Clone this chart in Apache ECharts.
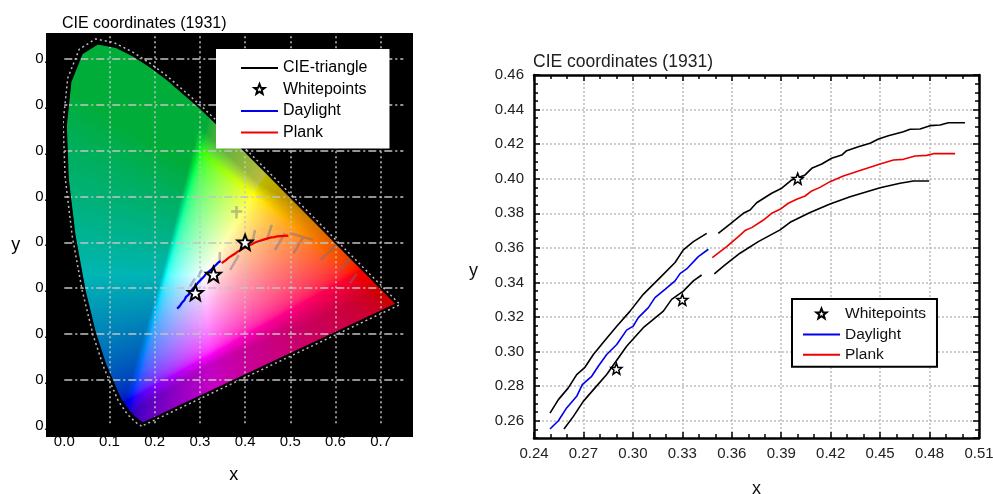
<!DOCTYPE html>
<html><head><meta charset="utf-8">
<style>html,body{margin:0;padding:0;background:#fff}#c{width:993px;height:494px}</style>
<script src="https://cdn.jsdelivr.net/npm/echarts@6/dist/echarts.min.js"></script>
</head><body><div id="c"></div>
<script>
const titleText = 'CIE coordinates (1931)';
const ciePerimeter = [[.1741,.0050],[.1733,.0048],[.1714,.0051],[.1644,.0109],[.1566,.0177],[.1440,.0297],[.1241,.0578],[.0913,.1327],[.0687,.2007],[.0454,.2950],[.0235,.4127],[.0082,.5384],[.0039,.6548],[.0139,.7502],[.0389,.8120],[.0743,.8338],[.1142,.8262],[.1547,.8059],[.1929,.7816],[.2296,.7543],[.3016,.6923],[.3731,.6245],[.4441,.5547],[.5125,.4866],[.5752,.4242],[.6270,.3725],[.6915,.3083],[.7260,.2740],[.7347,.2653],[.1741,.0050]];
const whitepoints = [[.29,.29],[.33,.33],[.40,.40]];
const daylight = [[.2497,.2552],[.2548,.26],[.2598,.2674],[.2659,.2741],[.2693,.2809],[.2750,.2857],[.2790,.2915],[.2841,.2983],[.2902,.3041],[.2962,.3124],[.3002,.3147],[.3033,.3196],[.3094,.3254],[.3134,.3312],[.3195,.3360],[.3256,.3409],[.3286,.3451],[.3326,.3478],[.3397,.3549],[.3458,.3592]];
const plank = [[.3482,.3543],[.3569,.3607],[.3640,.3665],[.3680,.3700],[.3721,.3717],[.3792,.3761],[.3842,.38],[.3893,.3823],[.3943,.3858],[.3994,.3881],[.4045,.39],[.4085,.3929],[.4135,.3950],[.4196,.3983],[.4277,.4016],[.4378,.4047],[.4500,.4085],[.4581,.4108],[.4641,.4112],[.4712,.4131],[.4783,.4135],[.4823,.4145],[.4955,.4145]];
const daylightUpper = [[.2497,.2644],[.2548,.2722],[.2608,.2790],[.2659,.2867],[.2709,.2909],[.2760,.2983],[.2831,.3066],[.2902,.3147],[.2983,.3234],[.3063,.3331],[.3165,.3428],[.3256,.3515],[.3306,.3588],[.3367,.3636],[.3448,.3684]];
const daylightLower = [[.2582,.2552],[.2639,.2625],[.2699,.2712],[.2770,.2790],[.2841,.2867],[.2962,.3031],[.3063,.3138],[.3185,.3234],[.3235,.3302],[.3306,.3350],[.3367,.3409],[.3417,.3443]];
const plankUpper = [[.3518,.3684],[.3589,.3738],[.3670,.38],[.3711,.3819],[.3751,.3861],[.3842,.3916],[.3903,.3945],[.3964,.3993],[.4045,.4022],[.4085,.4060],[.4146,.4085],[.4206,.4118],[.4267,.4137],[.4297,.4162],[.4368,.4185],[.4439,.4205],[.4490,.4230],[.4550,.4249],[.4641,.4272],[.4682,.4286],[.4742,.4288],[.4803,.4307],[.4864,.4311],[.4914,.4324],[.5015,.4324]];
const plankLower = [[.3494,.3449],[.3559,.3501],[.3650,.3569],[.3761,.3636],[.3893,.3704],[.3954,.3748],[.4075,.3804],[.4196,.3854],[.4318,.3896],[.4500,.3948],[.4621,.3974],[.4702,.3987],[.4797,.3987]];
const isoTicks = [[.278,.303],[.289,.321],[null,null],[.296,.324],[.304,.340],[null,null],[.344,.358],[.344,.379],[null,null],[.367,.340],[.386,.372],[null,null],[.415,.394],[.422,.427],[null,null],[.448,.405],[.459,.438],[null,null],[.466,.383],[.488,.420],[null,null],[.507,.376],[.529,.412],[null,null],[.566,.361],[.603,.394],[null,null],[.610,.340],[.632,.365],[null,null],[.632,.310],[.647,.332],[null,null],[.499,.420],[.551,.405],[null,null],[.369,.467],[.394,.467],[null,null],[.381,.479],[.381,.452]];
const leftXRange = [0,.75], leftYRange = [0,.85];
const rightXRange = [.24,.51], rightYRange = [.25,.46];
const starPath = 'path://M0,-10 L2.6,-3.3 L9.5,-3.1 L4.1,1.3 L5.9,8.1 L0,4.2 L-5.9,8.1 L-4.1,1.3 L-9.5,-3.1 L-2.6,-3.3 Z';
const legendStar = 'path://M-13,-13 L-13,-13 M13,13 L13,13 M0,-10 L2.6,-3.3 L9.5,-3.1 L4.1,1.3 L5.9,8.1 L0,4.2 L-5.9,8.1 L-4.1,1.3 L-9.5,-3.1 L-2.6,-3.3 Z';

function inside(px,py,poly){let c=false;for(let i=0,j=poly.length-1;i<poly.length;j=i++){const a=poly[i],b=poly[j];if((a[1]>py)!==(b[1]>py)&&px<(b[0]-a[0])*(py-a[1])/(b[1]-a[1])+a[0])c=!c;}return c;}
function gam(v){v=Math.max(0,Math.min(1,v));return v<=.0031308?12.92*v:1.055*Math.pow(v,1/2.4)-.055;}
function fieldColor(x,y){
  const X=x/y,Z=(1-x-y)/y;
  let r=3.2406*X-1.5372-.4986*Z,g=-.9689*X+1.8758+.0415*Z,b=.0557*X-.2040+1.0570*Z;
  const m=Math.min(r,g,b),mx=Math.max(r,g,b,1e-6);
  const over=Math.min(1,Math.max(0,-m/mx)*14);
  r=Math.max(r,0)/mx;g=Math.max(g,0)/mx;b=Math.max(b,0)/mx;
  if(g===1)b=Math.max(b,.09*over);
  const t=r+g+b;
  const dark=(r*.2+g*.33+b*.25)/t;
  const k=1-dark*over;
  return [gam(r)*255*k,gam(g)*255*k,gam(b)*255*k];
}
function makeField(w,h){
  const cv=document.createElement('canvas');cv.width=w;cv.height=h;
  const ctx=cv.getContext('2d'),im=ctx.createImageData(w,h);
  for(let j=0;j<h;j++)for(let i=0;i<w;i++){
    const x=leftXRange[0]+(i+.5)/w*(leftXRange[1]-leftXRange[0]);
    const y=leftYRange[1]-(j+.5)/h*(leftYRange[1]-leftYRange[0]);
    const o=(j*w+i)*4;
    if(inside(x,y,ciePerimeter)){const c=fieldColor(x,y);im.data[o]=c[0];im.data[o+1]=c[1];im.data[o+2]=c[2];im.data[o+3]=255;}
  }
  ctx.putImageData(im,0,0);return cv;
}
const fieldCanvas=makeField(339,389);
const rim=ciePerimeter.map(p=>[.33+(p[0]-.33)*1.02,.33+(p[1]-.33)*1.02]);

const font='"Liberation Sans",Arial,sans-serif';
const lbl=(size,extra)=>Object.assign({fontFamily:font,fontSize:size,color:'#111'},extra||{});
function line(name,data,color,xi,yi,w){return {name,type:'line',data,xAxisIndex:xi,yAxisIndex:yi,showSymbol:false,symbol:'none',z:5,lineStyle:{color,width:w},itemStyle:{color},silent:true,clip:false};}
function stars(xi,yi,size,bw){return {name:'Whitepoints',type:'scatter',data:whitepoints,xAxisIndex:xi,yAxisIndex:yi,symbol:starPath,symbolSize:size,z:6,itemStyle:{color:'#fff',borderColor:'#000',borderWidth:bw,opacity:1},silent:true};}
const noDot={itemStyle:{color:'transparent',borderColor:'transparent',borderWidth:0,opacity:0}};
const starEntry={name:'Whitepoints',icon:legendStar,itemStyle:{color:'#fff',borderColor:'#000',borderWidth:2}};
const rightXBase={type:'value',gridIndex:1,min:rightXRange[0],max:rightXRange[1],interval:.03,axisLine:{onZero:false,lineStyle:{color:'#000',width:2.5}},axisTick:{inside:true,length:6,lineStyle:{color:'#000',width:1.5}},minorTick:{show:true,splitNumber:3,length:4,lineStyle:{color:'#000',width:1.5}}};
const rightYBase={type:'value',gridIndex:1,min:rightYRange[0],max:rightYRange[1],splitNumber:10,axisLine:{onZero:false,lineStyle:{color:'#000',width:2.5}},axisTick:{inside:true,length:6,lineStyle:{color:'#000',width:1.5}}};
const rightYMinor={type:'value',gridIndex:1,min:rightYRange[0],max:rightYRange[1],interval:.005,axisLine:{show:false},axisLabel:{show:false},splitLine:{show:false},axisTick:{inside:true,length:4,lineStyle:{color:'#000',width:1.5}}};
const grayDot={show:true,showMinLine:false,showMaxLine:false,lineStyle:{color:'#bdbdbd',width:1.5,type:[2,2]}};

const option={
  animation:false,
  backgroundColor:'#fff',
  title:[
    {text:titleText,left:62,top:16,padding:0,textStyle:{fontFamily:font,fontSize:16,fontWeight:'normal',color:'#000'}},
    {text:titleText,left:533,top:53,padding:0,textStyle:{fontFamily:font,fontSize:17.5,fontWeight:'normal',color:'#222'}}
  ],
  graphic:[{type:'rect',z:-1,silent:true,shape:{x:46,y:33,width:367,height:404},style:{fill:'#000'}}],
  grid:[
    {left:64.3,top:36.2,width:339,height:389.3,outerBoundsMode:'none'},
    {left:534,top:75,width:445,height:363,outerBoundsMode:'none'}
  ],
  legend:[
    {orient:'vertical',left:216,top:49,padding:[11,22,8,24],itemWidth:37,itemHeight:14,itemGap:5.5,backgroundColor:'#fff',z:10,selectedMode:false,textStyle:lbl(16,{color:'#000'}),
     data:[Object.assign({name:'CIE-triangle'},noDot),starEntry,Object.assign({name:'Daylight'},noDot),Object.assign({name:'Plank'},noDot)]},
    {orient:'vertical',left:792,top:299,padding:[7,11,4,10],itemWidth:37,itemHeight:14,itemGap:4.4,backgroundColor:'#fff',borderColor:'#000',borderWidth:2,z:10,selectedMode:false,textStyle:lbl(15.5,{color:'#111'}),
     data:[starEntry,Object.assign({name:'Daylight'},noDot),Object.assign({name:'Plank'},noDot)]}
  ],
  xAxis:[
    {type:'value',gridIndex:0,min:leftXRange[0],max:leftXRange[1],interval:.1,z:3,name:'x',nameLocation:'middle',nameGap:41,nameTextStyle:lbl(18,{color:'#000'}),axisLine:{show:false},axisTick:{show:false},axisLabel:{margin:9,showMaxLabel:false,formatter:v=>v.toFixed(1),fontFamily:font,fontSize:15,color:'#000'},splitLine:{show:true,showMinLine:false,showMaxLine:false,lineStyle:{color:'#c4c4c4',width:1.5,type:[2,3]}}},
    Object.assign({},rightXBase,{position:'bottom',name:'x',nameLocation:'middle',nameGap:42,nameTextStyle:lbl(18),axisLabel:{margin:8,formatter:v=>v.toFixed(2),fontFamily:font,fontSize:15,color:'#222'},splitLine:grayDot}),
    Object.assign({},rightXBase,{position:'top',axisLabel:{show:false},splitLine:{show:false}})
  ],
  yAxis:[
    {type:'value',gridIndex:0,min:leftYRange[0],max:leftYRange[1],interval:.1,z:3,name:'y',nameLocation:'middle',nameRotate:0,nameGap:44,nameTextStyle:lbl(18,{color:'#000',verticalAlign:'top',padding:[5,0,0,0]}),axisLine:{show:false},axisTick:{show:false},axisLabel:{margin:16.5,showMaxLabel:false,formatter:()=>'0.',fontFamily:font,fontSize:15,color:'#000'},splitLine:{show:true,showMinLine:false,showMaxLine:false,lineStyle:{color:'#c4c4c4',width:1.5,type:[8,3,2,3]}}},
    Object.assign({},rightYBase,{position:'left',name:'y',nameLocation:'middle',nameRotate:0,nameGap:56,nameTextStyle:lbl(18,{verticalAlign:'top',padding:[6,0,0,0]}),axisLabel:{margin:10,showMinLabel:false,formatter:v=>v.toFixed(2),fontFamily:font,fontSize:15,color:'#222'},splitLine:grayDot}),
    Object.assign({},rightYBase,{position:'right',axisLabel:{show:false},splitLine:{show:false}}),
    Object.assign({},rightYMinor,{position:'left'}),
    Object.assign({},rightYMinor,{position:'right'})
  ],
  series:[
    {type:'custom',name:'field',xAxisIndex:0,yAxisIndex:0,z:1,silent:true,clip:false,coordinateSystem:'cartesian2d',data:[[leftXRange[0],leftYRange[1],leftXRange[1],leftYRange[0]]],
     encode:{x:[0,2],y:[1,3]},
     renderItem(p,api){const a=api.coord([api.value(0),api.value(1)]),b=api.coord([api.value(2),api.value(3)]);
       return {type:'image',silent:true,style:{image:fieldCanvas,x:a[0],y:a[1],width:b[0]-a[0],height:b[1]-a[1]}};}},
    {name:'rim',type:'line',data:rim,xAxisIndex:0,yAxisIndex:0,symbol:'none',z:2,silent:true,clip:false,lineStyle:{color:'#bbb',width:1.5,type:[2,3]}},
    {name:'isotherms',type:'line',data:isoTicks,xAxisIndex:0,yAxisIndex:0,symbol:'none',z:4,silent:true,connectNulls:false,lineStyle:{color:'rgba(110,110,130,.45)',width:2.5}},
    line('CIE-triangle',ciePerimeter,'#000',0,0,1.6),
    line('Daylight',daylight,'#0000ee',0,0,2.2),
    line('Plank',plank,'#ee0000',0,0,2.2),
    stars(0,0,15,2),
    line('Daylight',daylight,'#0000ee',1,1,1.6),
    line('Plank',plank,'#ee0000',1,1,1.6),
    line('daylight upper',daylightUpper,'#000',1,1,1.6),
    line('daylight lower',daylightLower,'#000',1,1,1.6),
    line('plank upper',plankUpper,'#000',1,1,1.6),
    line('plank lower',plankLower,'#000',1,1,1.6),
    stars(1,1,11,1.5)
  ]
};
echarts.init(document.getElementById('c'),null,{renderer:'canvas'}).setOption(option);
</script></body></html>
